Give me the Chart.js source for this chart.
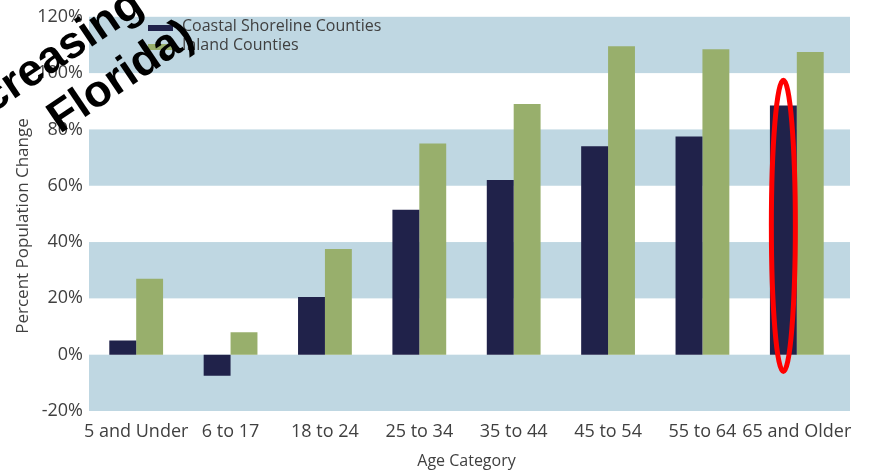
<!DOCTYPE html>
<html>
<head>
<meta charset="utf-8">
<title>Percent Population Change by Age Category</title>
<script src="https://cdn.jsdelivr.net/npm/chart.js@4"></script>
<style>
    html, body { margin: 0; padding: 0; background: #ffffff; }
    #chart { display: block; }
</style>
</head>
<body>
<canvas id="chart" width="884" height="473"></canvas>
<script>
const ageCategories = ['5 and Under', '6 to 17', '18 to 24', '25 to 34', '35 to 44', '45 to 54', '55 to 64', '65 and Older'];
const coastalChange = [5, -7.5, 20.5, 51.5, 62, 74, 77.5, 88.5];
const inlandChange = [27, 8, 37.5, 75, 89, 109.5, 108.5, 107.5];
const seriesNames = ['Coastal Shoreline Counties', 'Inland Counties'];
const bandRanges = [[-20, 0], [20, 40], [60, 80], [100, 120]];
const overlayLines = ['creasing', 'Florida)'];
const yAxisTitle = 'Percent Population Change';

const NAVY = '#20224a';
const GREEN = '#98af6c';
const BAND = '#bfd7e2';
const TEXT = '#404040';
const FONT = "'Open Sans', 'Liberation Sans', sans-serif";

// light blue stripes behind the bars (they run a little past the last category)
const bandsPlugin = {
    id: 'bands',
    beforeDatasetsDraw(chart) {
        const { ctx, chartArea, scales } = chart;
        ctx.save();
        ctx.fillStyle = BAND;
        bandRanges.forEach(([lo, hi]) => {
            const top = scales.y.getPixelForValue(hi);
            const bottom = scales.y.getPixelForValue(lo);
            ctx.fillRect(chartArea.left, top, chartArea.right - chartArea.left + 6, bottom - top);
        });
        ctx.restore();
    }
};

// legend sits inside the plot, top left; y title is drawn here too
const insideLegendPlugin = {
    id: 'insideLegend',
    afterDatasetsDraw(chart) {
        const { ctx } = chart;
        const colors = [NAVY, GREEN];
        ctx.save();
        ctx.font = `16px ${FONT}`;
        ctx.textBaseline = 'middle';
        seriesNames.forEach((name, i) => {
            const y = 26 + i * 19;
            ctx.fillStyle = colors[i];
            ctx.fillRect(148, y - 1, 25, 6);
            ctx.fillStyle = TEXT;
            ctx.fillText(name, 182, y);
        });

        ctx.translate(23, 226);
        ctx.rotate(-Math.PI / 2);
        ctx.textAlign = 'center';
        ctx.font = `17px ${FONT}`;
        ctx.fillText(yAxisTitle, 0, 0);
        ctx.restore();
    }
};

// red ring around the last coastal bar + the big rotated words
const markupPlugin = {
    id: 'markup',
    afterDraw(chart) {
        const { ctx, scales } = chart;
        const bar = chart.getDatasetMeta(0).data[ageCategories.length - 1];
        const top = scales.y.getPixelForValue(97.5);
        const bottom = scales.y.getPixelForValue(-6);

        ctx.save();
        ctx.strokeStyle = '#ff0000';
        ctx.lineWidth = 5;
        ctx.beginPath();
        ctx.ellipse(bar.x, (top + bottom) / 2, 12, (bottom - top) / 2, 0, 0, Math.PI * 2);
        ctx.stroke();
        ctx.restore();

        ctx.save();
        ctx.fillStyle = '#000000';
        ctx.font = `bold 45px 'Liberation Sans', Arial, sans-serif`;
        ctx.textBaseline = 'alphabetic';
        const starts = [[-8, 114], [60, 134]];
        overlayLines.forEach((line, i) => {
            ctx.save();
            ctx.translate(starts[i][0], starts[i][1]);
            ctx.rotate(-34 * Math.PI / 180);
            ctx.fillText(line, 0, 0);
            ctx.restore();
        });
        ctx.restore();
    }
};

function buildChart() {
    return new Chart(document.getElementById('chart'), {
        type: 'bar',
        data: {
            labels: ageCategories,
            datasets: [
                { label: seriesNames[0], data: coastalChange, backgroundColor: NAVY },
                { label: seriesNames[1], data: inlandChange, backgroundColor: GREEN }
            ]
        },
        options: {
            responsive: false,
            animation: false,
            layout: { padding: { top: 10, right: 40, bottom: 0, left: 0 } },
            datasets: {
                bar: { categoryPercentage: 0.57, barPercentage: 1.0, borderWidth: 0 }
            },
            plugins: {
                legend: { display: false },
                tooltip: { enabled: false }
            },
            scales: {
                x: {
                    grid: { display: false, drawTicks: false },
                    border: { display: false },
                    ticks: {
                        color: TEXT,
                        font: { family: FONT, size: 18 },
                        padding: 10,
                        autoSkip: false,
                        maxRotation: 0
                    },
                    title: {
                        display: true,
                        text: 'Age Category',
                        color: TEXT,
                        font: { family: FONT, size: 16 },
                        padding: { top: 0, bottom: 2 }
                    },
                    afterFit(scale) { scale.height = 62; }
                },
                y: {
                    min: -20,
                    max: 120,
                    grid: { display: false, drawTicks: false },
                    border: { display: false },
                    ticks: {
                        stepSize: 20,
                        color: TEXT,
                        font: { family: FONT, size: 18 },
                        padding: 6,
                        callback: v => v + '%'
                    },
                    afterFit(scale) { scale.width = 89; }
                }
            }
        },
        plugins: [bandsPlugin, insideLegendPlugin, markupPlugin]
    });
}

buildChart();
</script>
</body>
</html>
